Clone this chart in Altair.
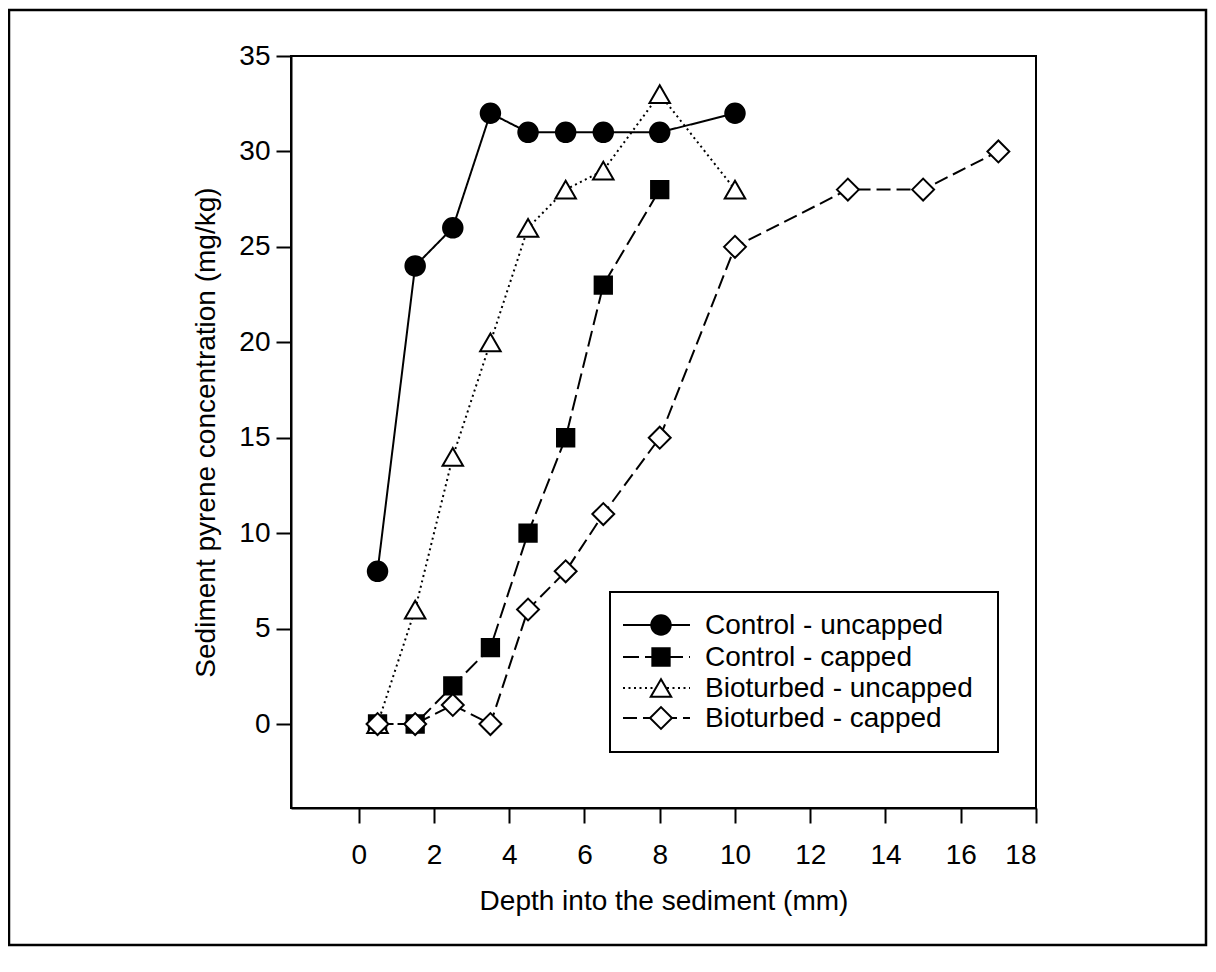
import altair as alt
import pandas as pd

# ---- data ----
series_names = ["Control - uncapped", "Control - capped",
                "Bioturbed - uncapped", "Bioturbed - capped"]

depth_cu = [0.5, 1.5, 2.5, 3.5, 4.5, 5.5, 6.5, 8, 10]
conc_cu = [8, 24, 26, 32, 31, 31, 31, 31, 32]

depth_cc = [0.5, 1.5, 2.5, 3.5, 4.5, 5.5, 6.5, 8]
conc_cc = [0, 0, 2, 4, 10, 15, 23, 28]

depth_bu = [0.5, 1.5, 2.5, 3.5, 4.5, 5.5, 6.5, 8, 10]
conc_bu = [0, 6, 14, 20, 26, 28, 29, 33, 28]

depth_bc = [0.5, 1.5, 2.5, 3.5, 4.5, 5.5, 6.5, 8, 10, 13, 15, 17]
conc_bc = [0, 0, 1, 0, 6, 8, 11, 15, 25, 28, 28, 30]

x_ticks = [0, 2, 4, 6, 8, 10, 12, 14, 16, 18]
y_ticks = [0, 5, 10, 15, 20, 25, 30, 35]

FONT = "Liberation Sans"
W, H = 745, 752
PL, PT = 283, 48

styles = [
    dict(shape="circle", fill="black", size=380, dash=[1, 0]),
    dict(shape="square", fill="black", size=300, dash=[16, 6]),
    dict(shape="triangle-up", fill="white", size=420, dash=[2, 3.5]),
    dict(shape="diamond", fill="white", size=480, dash=[14, 6]),
]
data_sets = [(depth_cu, conc_cu), (depth_cc, conc_cc),
             (depth_bu, conc_bu), (depth_bc, conc_bc)]

xscale = alt.Scale(domain=[-1.8, 18], nice=False, zero=False)
yscale = alt.Scale(domain=[-4.4, 35], nice=False, zero=False)

xaxis = alt.Axis(values=x_ticks, title="Depth into the sediment (mm)",
                 tickSize=15, labelPadding=18, titlePadding=18)
yaxis = alt.Axis(values=y_ticks, title="Sediment pyrene concentration (mg/kg)",
                 tickSize=15, labelPadding=6, titlePadding=18)

X = alt.X("depth:Q", scale=xscale, axis=xaxis)
Y = alt.Y("conc:Q", scale=yscale, axis=yaxis)

one = pd.DataFrame({"k": [0]})

layers = []
for i, ((xs, ys), st, name) in enumerate(zip(data_sets, styles, series_names)):
    df = pd.DataFrame({"depth": xs, "conc": ys, "series": name})
    line = alt.Chart(df).mark_line(color="black", strokeWidth=2, strokeDash=st["dash"]).encode(
        x=X, y=Y)
    pts = alt.Chart(df).mark_point(shape=st["shape"], filled=True, fill=st["fill"],
                                   stroke="black", strokeWidth=2, size=st["size"],
                                   opacity=1).encode(x=X, y=Y)
    layers += [line, pts]

# outer figure frame
layers.append(alt.Chart(one).mark_rect(fill=None, stroke="black", strokeWidth=2.5).encode(
    x=alt.value(-282), x2=alt.value(915), y=alt.value(-46), y2=alt.value(889)))

# legend box
LX0, LX1, LY0, LY1 = 319, 707, 536, 696
layers.append(alt.Chart(one).mark_rect(fill="white", stroke="black", strokeWidth=2).encode(
    x=alt.value(LX0), x2=alt.value(LX1), y=alt.value(LY0), y2=alt.value(LY1)))
row_y = [569, 601, 632, 662]
for ry, st, name in zip(row_y, styles, series_names):
    layers.append(alt.Chart(one).mark_rule(color="black", strokeWidth=2, strokeDash=st["dash"]).encode(
        x=alt.value(332), x2=alt.value(399), y=alt.value(ry)))
    layers.append(alt.Chart(one).mark_point(shape=st["shape"], filled=True, fill=st["fill"],
                                            stroke="black", strokeWidth=2, size=st["size"],
                                            opacity=1).encode(
        x=alt.value(370), y=alt.value(ry)))
    layers.append(alt.Chart(one).mark_text(align="left", baseline="middle", font=FONT,
                                           fontSize=28, color="black").encode(
        x=alt.value(414), y=alt.value(ry + 1), text=alt.value(name)))

chart = alt.layer(*layers).properties(
    width=W, height=H,
    autosize=alt.AutoSizeParams(type="none"),
    padding={"left": PL, "top": PT, "right": 1200 - PL - W, "bottom": 956 - PT - H},
).configure_view(stroke="black", strokeWidth=2).configure_axis(
    grid=False, domainColor="black", domainWidth=2, tickColor="black", tickWidth=2,
    labelFont=FONT, labelFontSize=28, labelColor="black",
    titleFont=FONT, titleFontSize=28, titleFontWeight="normal", titleColor="black",
)

chart.save("out.html", embed_options={"renderer": "svg", "actions": False})
